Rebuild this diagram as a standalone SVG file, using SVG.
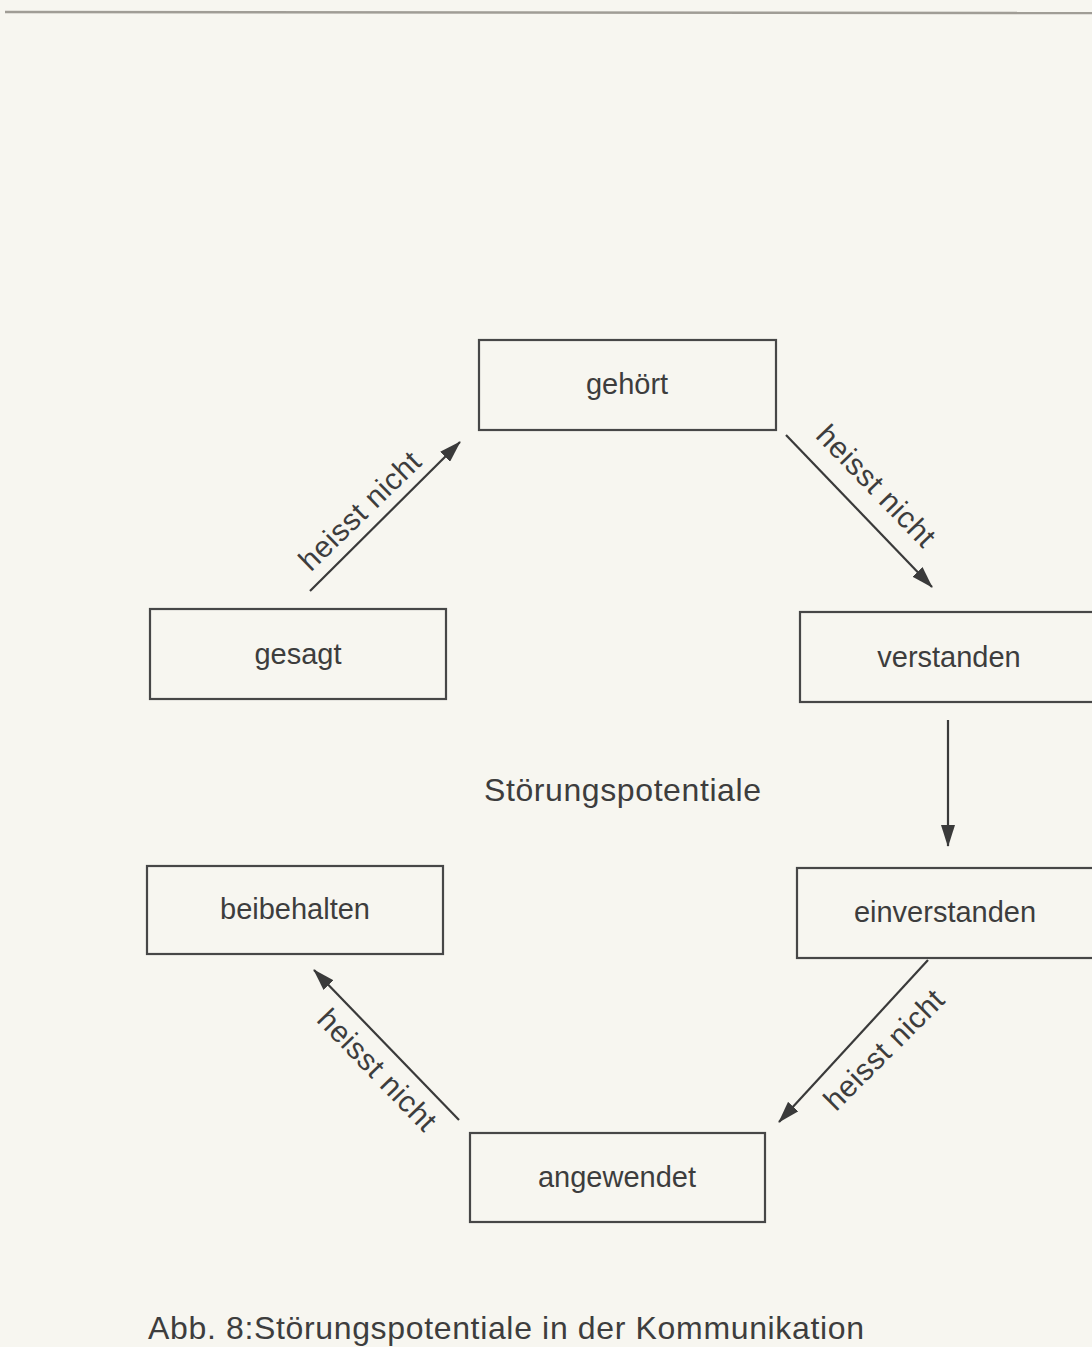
<svg xmlns="http://www.w3.org/2000/svg" width="1092" height="1347" viewBox="0 0 1092 1347">
<defs>
<marker id="arr" viewBox="0 0 22 14" refX="21" refY="7" markerWidth="22" markerHeight="14" markerUnits="userSpaceOnUse" orient="auto">
<path d="M0,0 L22,7 L0,14 Z" fill="#3a3a3a"/>
</marker>
<style>
.box{fill:none;stroke:#474747;stroke-width:2.2}
.lbl{font-family:"Liberation Sans",Arial,sans-serif;font-size:29px;fill:#3d3d3d;text-anchor:middle}
.edge{stroke:#3a3a3a;stroke-width:2.2;fill:none;marker-end:url(#arr)}
.el{font-family:"Liberation Sans",Arial,sans-serif;font-size:30px;fill:#3d3d3d;text-anchor:middle}
.big{font-family:"Liberation Sans",Arial,sans-serif;font-size:32px;fill:#3d3d3d}
</style>
</defs>
<rect width="1092" height="1347" fill="#f7f6f0"/>
<line x1="5" y1="12" x2="1092" y2="13" stroke="#a09d96" stroke-width="2.5"/>
<g id="gehoert"><rect class="box" x="479" y="340" width="297" height="90"/><text class="lbl" x="627" y="394">gehört</text></g>
<g id="gesagt"><rect class="box" x="150" y="609" width="296" height="90"/><text class="lbl" x="298" y="664">gesagt</text></g>
<g id="verstanden"><rect class="box" x="800" y="612" width="300" height="90"/><text class="lbl" x="949" y="667">verstanden</text></g>
<g id="beibehalten"><rect class="box" x="147" y="866" width="296" height="88"/><text class="lbl" x="295" y="919">beibehalten</text></g>
<g id="einverstanden"><rect class="box" x="797" y="868" width="300" height="90"/><text class="lbl" x="945" y="922">einverstanden</text></g>
<g id="angewendet"><rect class="box" x="470" y="1133" width="295" height="89"/><text class="lbl" x="617" y="1187">angewendet</text></g>
<g id="center"><text class="big" x="484" y="801" textLength="277">Störungspotentiale</text></g>
<g id="connectors">
<line class="edge" x1="310" y1="591" x2="460" y2="442"/>
<text class="el" transform="translate(360,511) rotate(-44)" y="10" textLength="156">heisst nicht</text>
<line class="edge" x1="786" y1="435" x2="932" y2="587"/>
<text class="el" transform="translate(876,486) rotate(46)" y="10" textLength="156">heisst nicht</text>
<line class="edge" x1="948" y1="720" x2="948" y2="846"/>
<line class="edge" x1="928" y1="960" x2="779" y2="1122"/>
<text class="el" transform="translate(884,1050) rotate(-45)" y="10" textLength="156">heisst nicht</text>
<line class="edge" x1="459" y1="1120" x2="314" y2="970"/>
<text class="el" transform="translate(377,1070) rotate(46)" y="10" textLength="156">heisst nicht</text>
</g>
<text class="big" x="148" y="1339" font-size="32" textLength="716">Abb. 8:Störungspotentiale in der Kommunikation</text>
</svg>
